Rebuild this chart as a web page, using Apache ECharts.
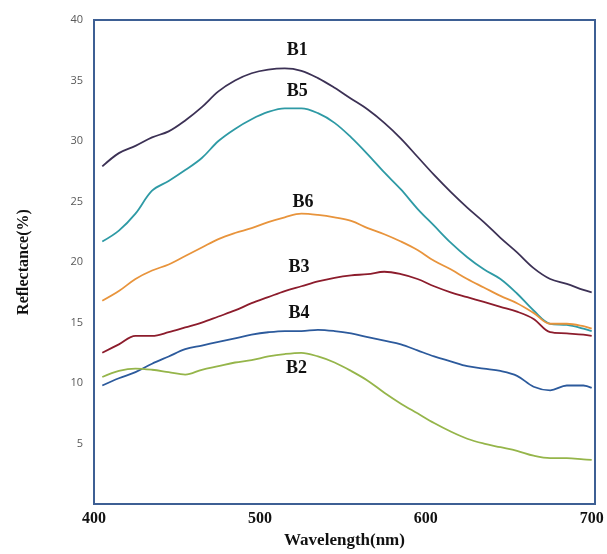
<!DOCTYPE html>
<html>
<head>
<meta charset="utf-8">
<script src="https://cdn.jsdelivr.net/npm/echarts@6/dist/echarts.min.js"></script>
<style>html,body{margin:0;padding:0;background:#fff;}#c{width:607px;height:554px;}</style>
</head>
<body>
<div id="c"></div>
<script>
const wavelengths = [405,415,425,435,445,455,465,475,485,495,505,515,525,535,545,555,565,575,585,595,605,615,625,635,645,655,665,675,685,695,700];
const B1 = [27.9,29.0,29.6,30.3,30.8,31.7,32.8,34.1,35.0,35.6,35.9,36.0,35.8,35.2,34.4,33.5,32.6,31.5,30.2,28.7,27.2,25.8,24.5,23.3,22.0,20.8,19.5,18.6,18.2,17.7,17.5];
const B5 = [21.7,22.6,24.0,25.9,26.7,27.6,28.6,30.0,31.0,31.8,32.4,32.7,32.7,32.3,31.5,30.3,28.9,27.4,26.0,24.4,23.0,21.6,20.4,19.4,18.6,17.4,16.0,14.9,14.8,14.5,14.3];
const B6 = [16.8,17.6,18.6,19.3,19.8,20.5,21.2,21.9,22.4,22.8,23.3,23.7,24.0,23.9,23.7,23.4,22.8,22.3,21.7,21.0,20.1,19.4,18.6,17.9,17.2,16.6,15.8,14.9,14.9,14.7,14.5];
const B3 = [12.5,13.2,13.9,13.9,14.2,14.6,15.0,15.5,16.0,16.6,17.1,17.6,18.0,18.4,18.7,18.9,19.0,19.2,19.0,18.6,18.0,17.5,17.1,16.7,16.3,15.9,15.3,14.2,14.1,14.0,13.9];
const B4 = [9.8,10.4,10.9,11.6,12.2,12.8,13.1,13.4,13.7,14.0,14.2,14.3,14.3,14.4,14.3,14.1,13.8,13.5,13.2,12.7,12.2,11.8,11.4,11.2,11.0,10.6,9.7,9.4,9.8,9.8,9.6];
const B2 = [10.5,11.0,11.2,11.1,10.9,10.7,11.1,11.4,11.7,11.9,12.2,12.4,12.5,12.2,11.7,11.0,10.2,9.2,8.3,7.5,6.7,6.0,5.4,5.0,4.7,4.4,4.0,3.8,3.8,3.7,3.65];
const seriesNames = ['B1','B5','B6','B3','B4','B2'];
const seriesValues = [B1,B5,B6,B3,B4,B2];
const seriesColors = ['#3c3155','#2e9aa5','#e8943c','#8c1c2c','#2c5a9c','#95b54a'];
// label anchor positions [wavelength, reflectance]
const labelPos = [[522.5,37.5],[522.5,34.1],[526,24.9],[523.5,19.6],[523.5,15.8],[522,11.2]];
const xTicks = [400,500,600,700];
const yTicks = [5,10,15,20,25,30,35,40];

const chart = echarts.init(document.getElementById('c'));
const serif = '"Liberation Serif","DejaVu Serif",serif';
const series = seriesNames.map((n,i)=>({
  name:n, type:'line', smooth:0.35, symbol:'none',
  data: wavelengths.map((w,j)=>[w, seriesValues[i][j]]),
  lineStyle:{color:seriesColors[i], width:1.8},
  itemStyle:{color:seriesColors[i]},
  markPoint:{
    symbol:'circle', symbolSize:0, silent:true,
    label:{show:true, formatter:n, color:'#111', fontFamily:serif, fontWeight:'bold', fontSize:18, position:'inside'},
    data:[{coord:labelPos[i]}]
  }
}));
chart.setOption({
  animation:false,
  backgroundColor:'#fff',
  grid:{left:94, right:12, top:20, bottom:43, show:true, borderColor:'#3d5f94', borderWidth:2, backgroundColor:'transparent'},
  xAxis:{type:'value', min:400, max:702, interval:100,
    axisLine:{show:false}, axisTick:{show:false}, splitLine:{show:false},
    axisLabel:{margin:7, color:'#111', fontFamily:serif, fontWeight:'bold', fontSize:16,
      showMaxLabel:false,
      formatter:v=> xTicks.includes(v) ? String(v) : ''},
    name:'Wavelength(nm)', nameLocation:'middle', nameGap:27,
    nameTextStyle:{color:'#111', fontFamily:serif, fontWeight:'bold', fontSize:17}
  },
  yAxis:{type:'value', min:0, max:40, interval:5,
    axisLine:{show:false}, axisTick:{show:false}, splitLine:{show:false},
    axisLabel:{margin:11, color:'#595959', fontFamily:'"Open Sans","Liberation Sans",sans-serif', fontSize:11,
      formatter:v=> yTicks.includes(v) ? String(v) : ''},
    name:'Reflectance(%)', nameLocation:'middle', nameGap:62,
    nameTextStyle:{color:'#111', fontFamily:serif, fontWeight:'bold', fontSize:16}
  },
  series:series
});
</script>
</body>
</html>
